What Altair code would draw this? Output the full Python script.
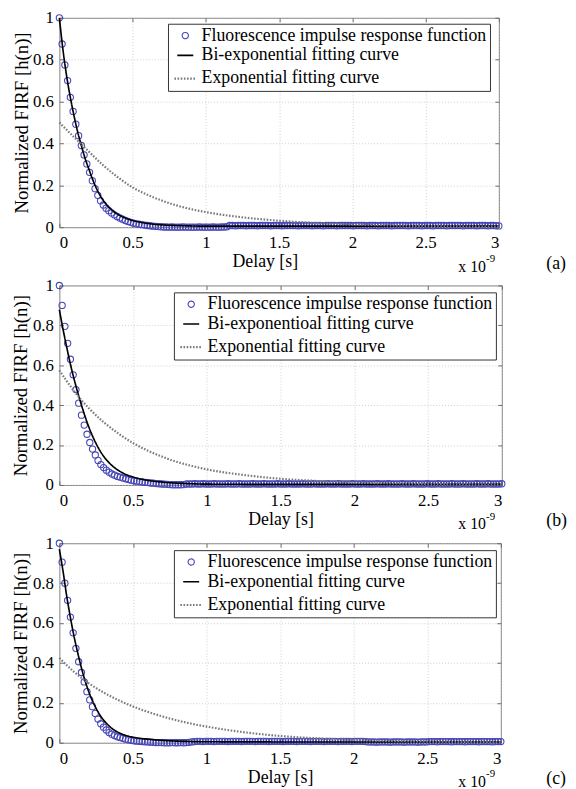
import altair as alt
import pandas as pd

FONT = "Liberation Serif"
STEP_NS = 0.01875  # sampling interval of the measured FIRF (ns)

S_DATA = "Fluorescence impulse response function"
S_BI_A = "Bi-exponential fitting curve"
S_BI_B = "Bi-exponentioal fitting curve"
S_EXP = "Exponential fitting curve"

X_TICKS = [0, 0.5, 1, 1.5, 2, 2.5, 3]
Y_TICKS = [0, 0.2, 0.4, 0.6, 0.8, 1]

FIRF_A = [
    1.000, 0.875, 0.775, 0.700, 0.620, 0.553, 0.492, 0.437, 0.390, 0.345,
    0.302, 0.262, 0.222, 0.184, 0.152, 0.126, 0.106, 0.091, 0.079, 0.068,
    0.059, 0.051, 0.044, 0.038, 0.032, 0.027, 0.023, 0.019, 0.016, 0.014,
    0.012, 0.010, 0.008, 0.007, 0.005, 0.004, 0.003, 0.002, 0.001, 0.001,
    0.000, 0.001, 0.000, 0.000, 0.000, 0.001, 0.000, 0.000, 0.000, 0.000,
    0.000, 0.001, 0.000, 0.000, 0.000, 0.000, 0.001, 0.000, 0.000, 0.001,
    0.001, 0.002, 0.008, 0.008, 0.007, 0.008, 0.008, 0.008, 0.007, 0.008,
    0.008, 0.008, 0.007, 0.008, 0.008, 0.008, 0.008, 0.007, 0.008, 0.008,
    0.008, 0.007, 0.008, 0.008, 0.008, 0.008, 0.008, 0.007, 0.008, 0.008,
    0.008, 0.008, 0.007, 0.008, 0.008, 0.008, 0.007, 0.008, 0.008, 0.008,
    0.008, 0.007, 0.008, 0.008, 0.008, 0.008, 0.008, 0.007, 0.008, 0.008,
    0.008, 0.008, 0.007, 0.008, 0.008, 0.008, 0.007, 0.008, 0.008, 0.008,
    0.008, 0.007, 0.008, 0.008, 0.008, 0.008, 0.008, 0.007, 0.008, 0.008,
    0.008, 0.008, 0.007, 0.008, 0.008, 0.008, 0.007, 0.008, 0.008, 0.008,
    0.008, 0.007, 0.008, 0.008, 0.008, 0.008, 0.008, 0.007, 0.008, 0.008,
    0.008, 0.008, 0.007, 0.008, 0.008, 0.008, 0.007, 0.008, 0.008, 0.007,
    0.006,
]

FIRF_B = [
    1.000, 0.900, 0.795, 0.710, 0.630, 0.552, 0.478, 0.410, 0.350, 0.300,
    0.254, 0.213, 0.180, 0.150, 0.123, 0.102, 0.087, 0.074, 0.064, 0.055,
    0.049, 0.043, 0.039, 0.035, 0.031, 0.027, 0.024, 0.021, 0.019, 0.017,
    0.015, 0.013, 0.012, 0.010, 0.009, 0.007, 0.006, 0.005, 0.004, 0.003,
    0.002, 0.001, 0.001, 0.001, 0.001, 0.002, 0.005, 0.005, 0.005, 0.006,
    0.005, 0.005, 0.006, 0.005, 0.005, 0.005, 0.006, 0.005, 0.005, 0.005,
    0.005, 0.006, 0.005, 0.005, 0.005, 0.006, 0.005, 0.005, 0.005, 0.005,
    0.006, 0.005, 0.005, 0.005, 0.006, 0.005, 0.005, 0.005, 0.005, 0.006,
    0.005, 0.005, 0.005, 0.006, 0.005, 0.005, 0.005, 0.005, 0.006, 0.005,
    0.005, 0.005, 0.006, 0.005, 0.005, 0.005, 0.005, 0.006, 0.005, 0.005,
    0.005, 0.006, 0.005, 0.005, 0.005, 0.005, 0.006, 0.005, 0.005, 0.005,
    0.006, 0.005, 0.005, 0.005, 0.005, 0.006, 0.005, 0.005, 0.005, 0.006,
    0.005, 0.005, 0.005, 0.005, 0.006, 0.005, 0.005, 0.005, 0.006, 0.005,
    0.005, 0.005, 0.005, 0.006, 0.005, 0.005, 0.005, 0.006, 0.005, 0.005,
    0.005, 0.005, 0.006, 0.005, 0.005, 0.005, 0.006, 0.005, 0.005, 0.005,
    0.005, 0.006, 0.005, 0.005, 0.005, 0.006, 0.005, 0.005, 0.005, 0.005,
    0.006,
]

FIRF_C = [
    1.000, 0.905, 0.800, 0.714, 0.630, 0.551, 0.473, 0.406, 0.352, 0.305,
    0.256, 0.215, 0.181, 0.147, 0.119, 0.095, 0.078, 0.064, 0.051, 0.043,
    0.036, 0.030, 0.026, 0.022, 0.018, 0.015, 0.012, 0.010, 0.008, 0.007,
    0.006, 0.005, 0.004, 0.003, 0.002, 0.001, 0.001, 0.001, 0.000, 0.000,
    0.000, 0.001, 0.000, 0.000, 0.001, 0.000, 0.001, 0.002, 0.004, 0.006,
    0.007, 0.007, 0.006, 0.007, 0.007, 0.007, 0.006, 0.007, 0.007, 0.007,
    0.007, 0.006, 0.007, 0.007, 0.007, 0.007, 0.006, 0.007, 0.007, 0.007,
    0.007, 0.006, 0.007, 0.007, 0.007, 0.007, 0.006, 0.007, 0.007, 0.007,
    0.007, 0.006, 0.007, 0.007, 0.007, 0.007, 0.006, 0.007, 0.007, 0.007,
    0.007, 0.006, 0.007, 0.007, 0.007, 0.007, 0.006, 0.007, 0.007, 0.007,
    0.007, 0.006, 0.007, 0.007, 0.007, 0.007, 0.006, 0.007, 0.007, 0.007,
    0.007, 0.006, 0.004, 0.004, 0.004, 0.003, 0.004, 0.004, 0.004, 0.004,
    0.003, 0.004, 0.004, 0.004, 0.004, 0.003, 0.004, 0.004, 0.004, 0.004,
    0.003, 0.004, 0.004, 0.004, 0.006, 0.006, 0.006, 0.005, 0.006, 0.006,
    0.006, 0.006, 0.005, 0.006, 0.006, 0.006, 0.006, 0.005, 0.006, 0.006,
    0.006, 0.006, 0.005, 0.006, 0.006, 0.006, 0.006, 0.005, 0.006, 0.006,
    0.006,
]

BI_T = [0, 0.025, 0.05, 0.075, 0.1, 0.125, 0.15, 0.175, 0.2, 0.225, 0.25, 0.275,
        0.3, 0.35, 0.4, 0.45, 0.5, 0.55, 0.6, 0.7, 0.8, 0.9, 1.0, 1.5, 2.0, 2.5, 3.0]
BI_A = [1.0, 0.845, 0.72, 0.62, 0.532, 0.455, 0.39, 0.33, 0.28, 0.232, 0.19, 0.155,
        0.127, 0.087, 0.061, 0.044, 0.032, 0.024, 0.018, 0.011, 0.008, 0.006, 0.005,
        0.005, 0.005, 0.005, 0.005]
BI_B = [0.879, 0.78, 0.69, 0.605, 0.53, 0.462, 0.40, 0.342, 0.29, 0.245, 0.206, 0.172,
        0.144, 0.102, 0.073, 0.053, 0.04, 0.03, 0.023, 0.014, 0.009, 0.006, 0.004,
        0.003, 0.003, 0.003, 0.003]
BI_C = [0.97, 0.86, 0.735, 0.628, 0.532, 0.45, 0.375, 0.31, 0.255, 0.21, 0.172, 0.14,
        0.114, 0.076, 0.052, 0.037, 0.028, 0.022, 0.018, 0.012, 0.008, 0.006, 0.005,
        0.004, 0.004, 0.004, 0.004]

EXP_T = [0, 0.1, 0.2, 0.3, 0.4, 0.5, 0.6, 0.7, 0.8, 0.9, 1.0, 1.25, 1.5, 1.75, 2.0,
         2.25, 2.5, 2.75, 3.0]
EXP_A = [0.50, 0.43, 0.362, 0.295, 0.238, 0.19, 0.155, 0.127, 0.104, 0.086, 0.072,
         0.047, 0.031, 0.02, 0.013, 0.0085, 0.0055, 0.0035, 0.0023]
EXP_B = [0.575, 0.47, 0.385, 0.315, 0.258, 0.21, 0.172, 0.141, 0.115, 0.095, 0.078,
         0.05, 0.031, 0.02, 0.012, 0.008, 0.005, 0.003, 0.002]
EXP_C = [0.425, 0.355, 0.298, 0.252, 0.214, 0.182, 0.155, 0.132, 0.112, 0.095, 0.081,
         0.053, 0.034, 0.022, 0.014, 0.009, 0.006, 0.004, 0.0025]

TICK_LEN = 4
TICK_COLOR = "#6a6a6a"


def panel(firf, bi, ex, bi_label, tag, w, h, leg_x, leg_y, xtitle_x, ytitle_x):
    t = [round(i * STEP_NS, 5) for i in range(len(firf))]
    pts = pd.DataFrame({"t": t, "v": firf, "series": S_DATA})
    lines = pd.concat([
        pd.DataFrame({"t": BI_T, "v": bi, "series": bi_label}),
        pd.DataFrame({"t": EXP_T, "v": ex, "series": S_EXP}),
    ])
    domain = [S_DATA, bi_label, S_EXP]
    legend = alt.Legend(
        title=None, orient="none", legendX=leg_x, legendY=leg_y,
        fillColor="white", strokeColor="#333333", padding=3,
        labelFont=FONT, labelFontSize=18, labelColor="black", labelLimit=500,
        rowPadding=2, labelOffset=4, symbolOffset=2,
    )
    xscale = alt.Scale(domain=[0, 3], nice=False, zero=False)
    yscale = alt.Scale(domain=[0, 1], nice=False)
    x_main = alt.X("t:Q", scale=xscale,
                   axis=alt.Axis(values=X_TICKS, format="~g", title="Delay [s]",
                                 labelFont=FONT, labelFontSize=17, labelPadding=8,
                                 offset=-TICK_LEN, ticks=True, tickSize=TICK_LEN,
                                 tickColor=TICK_COLOR,
                                 titleX=xtitle_x, titleY=35 + TICK_LEN, titleBaseline="middle"))
    y_main = alt.Y("v:Q", scale=yscale,
                   axis=alt.Axis(values=Y_TICKS, format="~g", title="Normalized FIRF [h(n)]",
                                 labelFont=FONT, labelFontSize=17, labelPadding=6,
                                 offset=-TICK_LEN, ticks=True, tickSize=TICK_LEN,
                                 tickColor=TICK_COLOR,
                                 titleX=ytitle_x - TICK_LEN, titleY=h / 2, titleBaseline="middle",
                                 titleFontSize=19))
    x_plain = alt.X("t:Q", scale=xscale, axis=None)
    y_plain = alt.Y("v:Q", scale=yscale, axis=None)

    color = alt.Color("series:N", scale=alt.Scale(domain=domain, range=["#4646b8", "black", "#7a7a7a"]), legend=legend)
    shape = alt.Shape("series:N", scale=alt.Scale(domain=domain, range=["circle", "stroke", "stroke"]), legend=legend)
    size = alt.Size("series:N", scale=alt.Scale(domain=domain, range=[40, 484, 484]), legend=legend)
    dash = alt.StrokeDash("series:N", scale=alt.Scale(domain=domain, range=[[1, 0], [1, 0], [1.6, 1.6]]), legend=legend)
    sw = alt.StrokeWidth("series:N", scale=alt.Scale(domain=domain, range=[1.1, 2.2, 1.6]), legend=legend)

    pt_layer = alt.Chart(pts).mark_point(filled=False, opacity=1).encode(
        x=x_main, y=y_main, color=color, shape=shape, size=size, strokeWidth=sw)
    line_layer = alt.Chart(lines).mark_line(interpolate="monotone").encode(
        x=x_plain, y=y_plain, color=color, strokeDash=dash, strokeWidth=sw, detail="series:N")

    # inward ticks on the top and right edges of the box
    box_axes = alt.Chart(pts).mark_point(opacity=0).encode(
        x=alt.X("t:Q", scale=xscale,
                axis=alt.Axis(orient="top", values=X_TICKS, labels=False, title=None,
                              grid=False, domain=False, ticks=True, tickSize=TICK_LEN,
                              tickColor=TICK_COLOR, offset=-TICK_LEN)),
        y=alt.Y("v:Q", scale=yscale,
                axis=alt.Axis(orient="right", values=Y_TICKS, labels=False, title=None,
                              grid=False, domain=False, ticks=True, tickSize=TICK_LEN,
                              tickColor=TICK_COLOR, offset=-TICK_LEN)),
    )

    ann = pd.DataFrame({"k": [0]})
    x10 = alt.Chart(ann).mark_text(text="x 10", font=FONT, fontSize=16, align="left",
                                   baseline="middle", color="black").encode(
        x=alt.value(404), y=alt.value(h + 40))
    exp9 = alt.Chart(ann).mark_text(text="-9", font=FONT, fontSize=11, align="left",
                                    baseline="middle", color="black").encode(
        x=alt.value(432), y=alt.value(h + 32))
    lab = alt.Chart(ann).mark_text(text=tag, font=FONT, fontSize=18, align="left",
                                   baseline="middle", color="black").encode(
        x=alt.value(493), y=alt.value(h + 37))

    return alt.layer(pt_layer, line_layer, box_axes, x10, exp9, lab).resolve_axis(
        x="independent", y="independent").properties(width=w, height=h)


pa = panel(FIRF_A, BI_A, EXP_A, S_BI_A, "(a)", 445, 212, 110, 6, 208, -38)
pb = panel(FIRF_B, BI_B, EXP_B, S_BI_B, "(b)", 448, 202, 116, 7, 224, -39.5)
pc = panel(FIRF_C, BI_C, EXP_C, S_BI_A, "(c)", 447, 202, 116, 7, 223.5, -39.5)

chart = alt.vconcat(pa, pb, pc, spacing=0).resolve_scale(
    color="independent", shape="independent", size="independent",
    strokeDash="independent", strokeWidth="independent",
).configure(
    padding={"left": 2, "top": -5, "right": 0, "bottom": 0},
).configure_view(
    stroke="#7f7f7f", strokeWidth=1,
).configure_axis(
    labelFont=FONT, labelFontSize=17, labelColor="black",
    titleFont=FONT, titleFontSize=18, titleColor="black", titleFontWeight="normal",
    grid=True, gridColor="#c4c4c4", gridDash=[1, 2], gridWidth=0.8,
    domain=False,
)

chart.save("out.html", embed_options={"renderer": "svg", "actions": False})
